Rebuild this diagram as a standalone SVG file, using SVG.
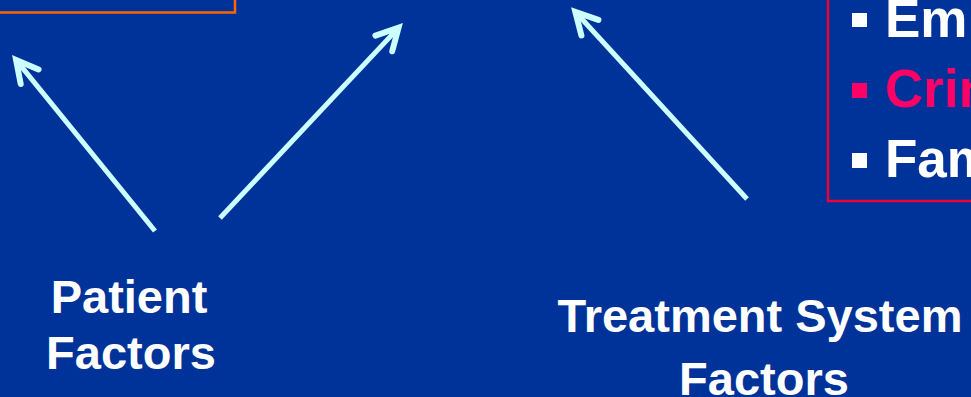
<svg xmlns="http://www.w3.org/2000/svg" width="971" height="397" viewBox="0 0 971 397">
  <style>
    .lbl { font-family: "Liberation Sans", Arial, sans-serif; font-weight: bold; font-size: 47px; fill: #FFFFFF; }
    .item { font-family: "Liberation Sans", Arial, sans-serif; font-weight: bold; font-size: 53px; fill: #FFFFFF; }
    .hot { fill: #FF0066; }
    .conn { stroke: #CCFFFF; stroke-width: 5; fill: none; marker-end: url(#ah); }
  </style>
  <defs>
    <marker id="ah" markerUnits="userSpaceOnUse" markerWidth="40" markerHeight="40" viewBox="-35 -20 40 40" refX="-7" refY="0" orient="auto" overflow="visible">
      <path d="M-28,-11.5 L-6.5,0 L-28,11.5" fill="none" stroke="#CCFFFF" stroke-width="6" stroke-linecap="round" stroke-linejoin="miter"/>
    </marker>
  </defs>
  <rect width="971" height="397" fill="#003399"/>

  <g id="box-left">
    <rect x="-10" y="-10" width="245" height="22.5" fill="none" stroke="#FF6600" stroke-width="2.5"/>
  </g>

  <g id="box-right">
    <rect x="828" y="-10" width="200" height="211" fill="none" stroke="#EE0033" stroke-width="2.5"/>
    <rect x="852" y="13" width="15" height="14" fill="#FFFFFF"/>
    <text class="item" x="885" y="37">Em</text>
    <rect x="852" y="83" width="15" height="15" class="hot"/>
    <text class="item hot" x="885" y="107">Crim</text>
    <rect x="852" y="153" width="15" height="15" fill="#FFFFFF"/>
    <text class="item" x="885" y="177">Fam</text>
  </g>

  <g id="patient-factors">
    <text class="lbl" x="129" y="313" text-anchor="middle">Patient</text>
    <text class="lbl" x="131" y="369" text-anchor="middle">Factors</text>
  </g>

  <g id="treatment-system-factors">
    <text class="lbl" x="760" y="332" text-anchor="middle">Treatment System</text>
    <text class="lbl" x="764" y="395" text-anchor="middle">Factors</text>
  </g>

  <g id="connectors">
    <line class="conn" x1="155" y1="231" x2="16.4" y2="60.4"/>
    <line class="conn" x1="220" y1="218" x2="398.2" y2="28.1"/>
    <line class="conn" x1="747" y1="199" x2="575.7" y2="12.2"/>
  </g>
</svg>
